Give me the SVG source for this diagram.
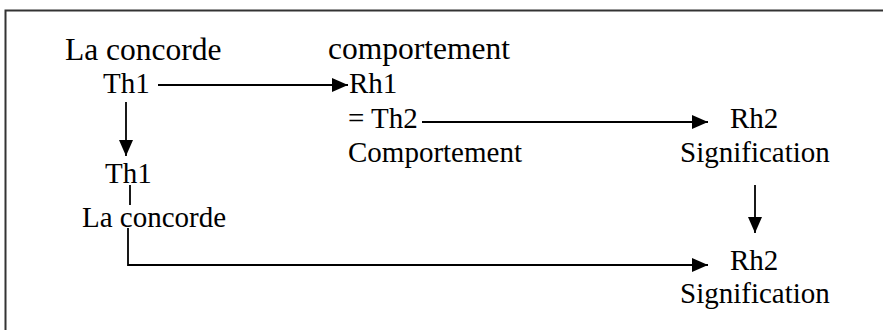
<svg xmlns="http://www.w3.org/2000/svg" width="883" height="330" viewBox="0 0 883 330">
<style>
text{font-family:"Liberation Serif","Times New Roman",serif;font-size:29px;fill:#000}
text.big{font-size:31.5px}
.c{stroke:#000;stroke-width:1.8;fill:none}
</style>
<defs>
<marker id="ah" markerWidth="16" markerHeight="14" refX="16" refY="7" orient="auto" markerUnits="userSpaceOnUse">
<path d="M0,0 L16,7 L0,14 Z" fill="#000"/>
</marker>
</defs>
<rect width="883" height="330" fill="#fff"/>
<path d="M5.5,330 L5.5,10.5 L883,10.5" fill="none" stroke="#333" stroke-width="2"/>
<g id="n-concorde1"><text class="big" x="65" y="60">La concorde</text><text x="103" y="93">Th1</text></g>
<g id="n-rh1"><text class="big" x="328" y="59">comportement</text><text x="349" y="93">Rh1</text><text x="348" y="128">= Th2</text><text x="348" y="162">Comportement</text></g>
<g id="n-rh2a"><text x="730" y="128">Rh2</text><text x="680" y="162">Signification</text></g>
<g id="n-th1b"><text x="105" y="183">Th1</text><text x="82" y="227">La concorde</text></g>
<g id="n-rh2b"><text x="730" y="270">Rh2</text><text x="680" y="303">Signification</text></g>
<g id="connectors">
<path class="c" d="M158,85 L348,85" marker-end="url(#ah)"/>
<path class="c" d="M422,122 L708,122" marker-end="url(#ah)"/>
<path class="c" d="M126,102 L126,156" marker-end="url(#ah)"/>
<path class="c" d="M755,185 L755,233" marker-end="url(#ah)"/>
<path class="c" d="M130,185 L130,205"/>
<path class="c" d="M128,228 L128,265 L708,265" marker-end="url(#ah)"/>
</g>
</svg>
